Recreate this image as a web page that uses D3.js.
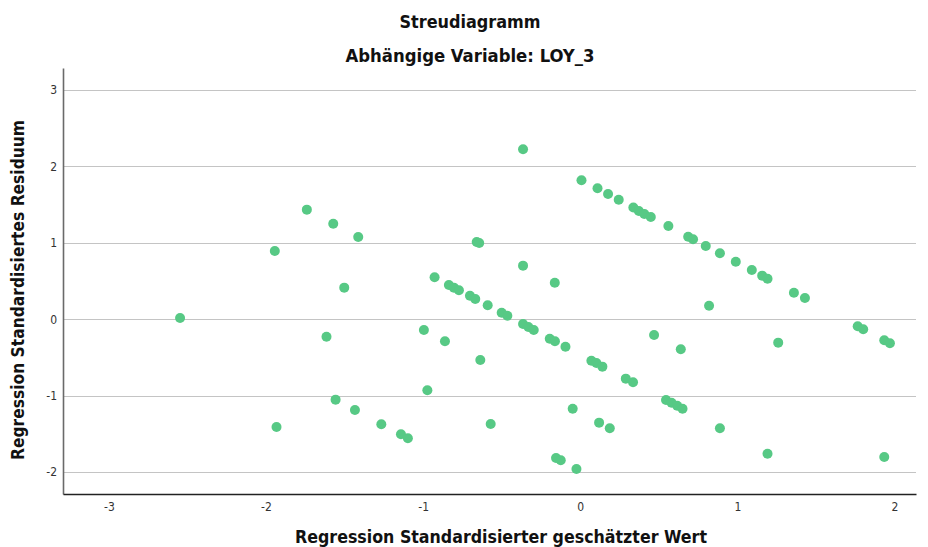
<!DOCTYPE html>
<html>
<head>
<meta charset="utf-8">
<script src="https://cdn.jsdelivr.net/npm/d3@7"></script>
<style>
  html, body { margin: 0; padding: 0; background: #fff; }
  svg { display: block; }
</style>
</head>
<body>
<svg id="chart" width="928" height="547"></svg>
<script>
// ---- data ----
const titleMain = "Streudiagramm";
const titleSub = "Abhängige Variable: LOY_3";
const xLabel = "Regression Standardisierter geschätzter Wert";
const yLabel = "Regression Standardisiertes Residuum";
const xTicks = [-3, -2, -1, 0, 1, 2];
const yTicks = [-2, -1, 0, 1, 2, 3];

const predicted = [
  -2.547, -1.944, -1.933, -1.740, -1.572, -1.413, -1.502, -1.615, -1.557, -1.434,
  -1.266, -1.141, -1.097, -0.995, -0.973, -0.927, -0.861, -0.836, -0.804, -0.772,
  -0.702, -0.668, -0.659, -0.643, -0.636, -0.589, -0.570, -0.500, -0.464, -0.364,
  -0.364, -0.364, -0.330, -0.296, -0.194, -0.161, -0.162, -0.094, -0.154, -0.124,
  -0.048, -0.024, 0.008, 0.071, 0.103, 0.141, 0.110, 0.120, 0.177, 0.188,
  0.245, 0.290, 0.336, 0.338, 0.373, 0.408, 0.449, 0.470, 0.561, 0.546,
  0.581, 0.617, 0.651, 0.640, 0.687, 0.718, 0.799, 0.820, 0.889, 0.889,
  0.990, 1.092, 1.158, 1.192, 1.192, 1.260, 1.360, 1.430, 1.766, 1.801,
  1.935, 1.971, 1.935
];
const residual = [
  0.017, 0.894, -1.410, 1.435, 1.251, 1.077, 0.414, -0.228, -1.052, -1.187,
  -1.374, -1.505, -1.557, -0.140, -0.929, 0.550, -0.288, 0.449, 0.414, 0.380,
  0.309, 0.266, 1.012, 0.999, -0.533, 0.183, -1.370, 0.086, 0.047, 2.225,
  0.702, -0.062, -0.101, -0.140, -0.254, -0.288, 0.479, -0.359, -1.815, -1.846,
  -1.170, -1.959, 1.819, -0.542, -0.572, -0.620, 1.715, -1.353, 1.640, -1.427,
  1.565, -0.777, -0.825, 1.463, 1.418, 1.378, 1.339, -0.205, 1.221, -1.056,
  -1.092, -1.132, -1.170, -0.393, 1.081, 1.047, 0.959, 0.177, 0.864, -1.427,
  0.754, 0.645, 0.571, 0.531, -1.759, -0.306, 0.348, 0.279, -0.092, -0.131,
  -0.275, -0.314, -1.802
];
const points = predicted.map((x, i) => ({ x, y: residual[i] }));

// ---- layout ----
const svg = d3.select("#chart");
const plot = { left: 63, right: 916, top: 68, bottom: 494 };
const font = "'Liberation Sans Narrow', 'DejaVu Sans Condensed', 'Liberation Sans', sans-serif";

const x = d3.scaleLinear().domain([-3.292, 2.137]).range([plot.left, plot.right]);
const y = d3.scaleLinear().domain([-2.287, 3.289]).range([plot.bottom, plot.top]);

// gridlines
svg.append("g")
  .selectAll("line")
  .data(yTicks)
  .join("line")
  .attr("x1", plot.left)
  .attr("x2", plot.right)
  .attr("y1", d => Math.round(y(d)) + 0.5)
  .attr("y2", d => Math.round(y(d)) + 0.5)
  .attr("stroke", "#c4c4c4")
  .attr("stroke-width", 1);

// y axis
const yAxis = d3.axisLeft(y).tickValues(yTicks).tickSize(0).tickPadding(6)
  .tickFormat(d => String(d));
const gy = svg.append("g").attr("transform", `translate(${plot.left},0)`).call(yAxis);
gy.select(".domain").attr("stroke", "#6a6a6a").attr("stroke-width", 1.6);
gy.selectAll("text").attr("font-family", font).attr("font-size", 12).attr("fill", "#333");

// x axis
const xAxis = d3.axisBottom(x).tickValues(xTicks).tickSize(0).tickPadding(8)
  .tickFormat(d => String(d));
const gx = svg.append("g").attr("transform", `translate(0,${plot.bottom})`).call(xAxis);
gx.select(".domain").attr("stroke", "#222").attr("stroke-width", 1.3);
gx.selectAll("text").attr("font-family", font).attr("font-size", 12).attr("fill", "#333");

// points
svg.append("g")
  .selectAll("circle")
  .data(points)
  .join("circle")
  .attr("cx", d => x(d.x))
  .attr("cy", d => y(d.y))
  .attr("r", 5)
  .attr("fill", "#57c985");

// titles
svg.append("text")
  .attr("x", 470).attr("y", 28)
  .attr("text-anchor", "middle")
  .attr("font-family", font).attr("font-weight", "bold").attr("font-size", 17)
  .attr("fill", "#111")
  .attr("textLength", 141).attr("lengthAdjust", "spacingAndGlyphs")
  .text(titleMain);
svg.append("text")
  .attr("x", 470).attr("y", 62)
  .attr("text-anchor", "middle")
  .attr("font-family", font).attr("font-weight", "bold").attr("font-size", 17)
  .attr("fill", "#111")
  .attr("textLength", 249).attr("lengthAdjust", "spacingAndGlyphs")
  .text(titleSub);

// axis titles
svg.append("text")
  .attr("x", 501).attr("y", 543)
  .attr("text-anchor", "middle")
  .attr("font-family", font).attr("font-weight", "bold").attr("font-size", 18)
  .attr("fill", "#111")
  .attr("textLength", 412).attr("lengthAdjust", "spacingAndGlyphs")
  .text(xLabel);
svg.append("text")
  .attr("transform", "translate(24,290) rotate(-90)")
  .attr("text-anchor", "middle")
  .attr("font-family", font).attr("font-weight", "bold").attr("font-size", 18)
  .attr("fill", "#111")
  .attr("textLength", 340).attr("lengthAdjust", "spacingAndGlyphs")
  .text(yLabel);
</script>
</body>
</html>
